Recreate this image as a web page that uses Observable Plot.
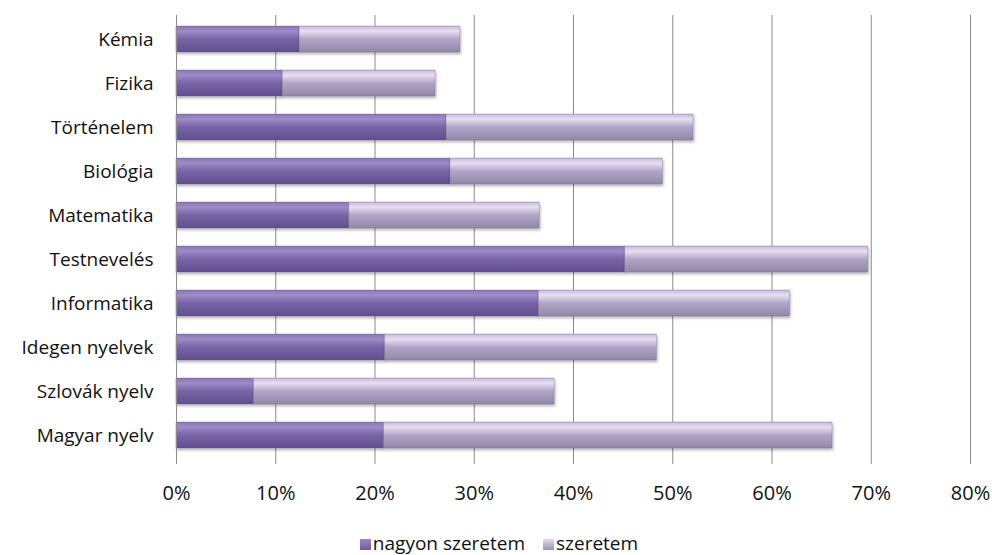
<!DOCTYPE html>
<html>
<head>
<meta charset="utf-8">
<script src="https://cdn.jsdelivr.net/npm/d3@7"></script>
<script src="https://cdn.jsdelivr.net/npm/@observablehq/plot@0.6"></script>
<style>
  html, body { margin: 0; padding: 0; background: #fff; }
  #chart { width: 992px; }
  .legend { display: flex; justify-content: center; gap: 18px; font-family: "Open Sans", sans-serif; font-size: 19px; line-height: 26px; color: #111; margin-left: 6px; margin-top: 15px; }
  .legend span.item { display: flex; align-items: baseline; }
  .legend span.sw { display: inline-block; width: 11px; height: 11px; margin-right: 2px; }
</style>
</head>
<body>
<div id="chart"></div>
<script>
const subjects = ["Kémia", "Fizika", "Történelem", "Biológia", "Matematika", "Testnevelés", "Informatika", "Idegen nyelvek", "Szlovák nyelv", "Magyar nyelv"];
const nagyonSzeretem = [12.4, 10.7, 27.2, 27.6, 17.4, 45.2, 36.5, 21.0, 7.8, 20.9];
const szeretemTotal = [28.6, 26.1, 52.1, 49.0, 36.6, 69.7, 61.8, 48.4, 38.1, 66.1];
const seriesNames = ["nagyon szeretem", "szeretem"];
const xTicks = [0, 10, 20, 30, 40, 50, 60, 70, 80];

const data = [];
subjects.forEach((s, i) => {
  data.push({subject: s, series: seriesNames[0], value: nagyonSzeretem[i]});
  data.push({subject: s, series: seriesNames[1], value: +(szeretemTotal[i] - nagyonSzeretem[i]).toFixed(2)});
});

const font = "'Open Sans', sans-serif";
const plot = Plot.plot({
  width: 992,
  height: 515,
  marginLeft: 176,
  marginRight: 22,
  marginTop: 15,
  marginBottom: 57,
  style: {fontFamily: font, fontSize: "19px", color: "#111", background: "#fff"},
  x: {domain: [0, 80], ticks: xTicks, tickFormat: d => d + "%", label: null},
  y: {domain: subjects, label: null, paddingInner: 0.414, paddingOuter: 0.2},
  color: {domain: seriesNames, range: ["url(#gradDark)", "url(#gradLight)"]},
  marks: [
    Plot.gridX(xTicks.slice(1), {stroke: "#8c8c8c", strokeOpacity: 1, strokeWidth: 1}),
    Plot.barX(data, {x: "value", y: "subject", fill: "series", stroke: "#5a4a7a", strokeOpacity: 0.35, strokeWidth: 0.8, order: seriesNames}),
    Plot.ruleX([0], {stroke: "#8c8c8c"}),
    Plot.ruleY([0], {stroke: "#8c8c8c"}),
    Plot.axisX({ticks: xTicks, tickFormat: d => d + "%", tickSize: 6, tickPadding: 21, stroke: "#8c8c8c", label: null, fontSize: 20}),
    Plot.axisY({tickSize: 0, tickPadding: 23, label: null, fontSize: 19})
  ]
});

const ns = "http://www.w3.org/2000/svg";
const defs = document.createElementNS(ns, "defs");
defs.innerHTML = `
  <linearGradient id="gradDark" x1="0" y1="0" x2="0" y2="1">
    <stop offset="0" stop-color="#8a77b8"/>
    <stop offset="0.2" stop-color="#9d8cc8"/>
    <stop offset="0.5" stop-color="#7864a7"/>
    <stop offset="1" stop-color="#614f8c"/>
  </linearGradient>
  <linearGradient id="gradLight" x1="0" y1="0" x2="0" y2="1">
    <stop offset="0" stop-color="#c4b6d8"/>
    <stop offset="0.2" stop-color="#eadff1"/>
    <stop offset="0.5" stop-color="#b1a5c8"/>
    <stop offset="1" stop-color="#9288a8"/>
  </linearGradient>
  <filter id="shadow" x="-5%" y="-20%" width="110%" height="160%">
    <feDropShadow dx="1" dy="2" stdDeviation="1.5" flood-color="#000" flood-opacity="0.3"/>
  </filter>`;
plot.insertBefore(defs, plot.firstChild);
plot.querySelectorAll("rect").forEach(r => {
  const f = r.getAttribute("fill");
  if (f && f.startsWith("url")) r.setAttribute("filter", "url(#shadow)");
});

document.getElementById("chart").appendChild(plot);

const legend = document.createElement("div");
legend.className = "legend";
const swatchColors = ["linear-gradient(#9a88c6, #6e5a9e)", "linear-gradient(#e4d9ee, #9d92b3)"];
seriesNames.forEach((name, i) => {
  const item = document.createElement("span");
  item.className = "item";
  const sw = document.createElement("span");
  sw.className = "sw";
  sw.style.background = swatchColors[i];
  item.appendChild(sw);
  item.appendChild(document.createTextNode(name));
  legend.appendChild(item);
});
document.getElementById("chart").appendChild(legend);
</script>
</body>
</html>
